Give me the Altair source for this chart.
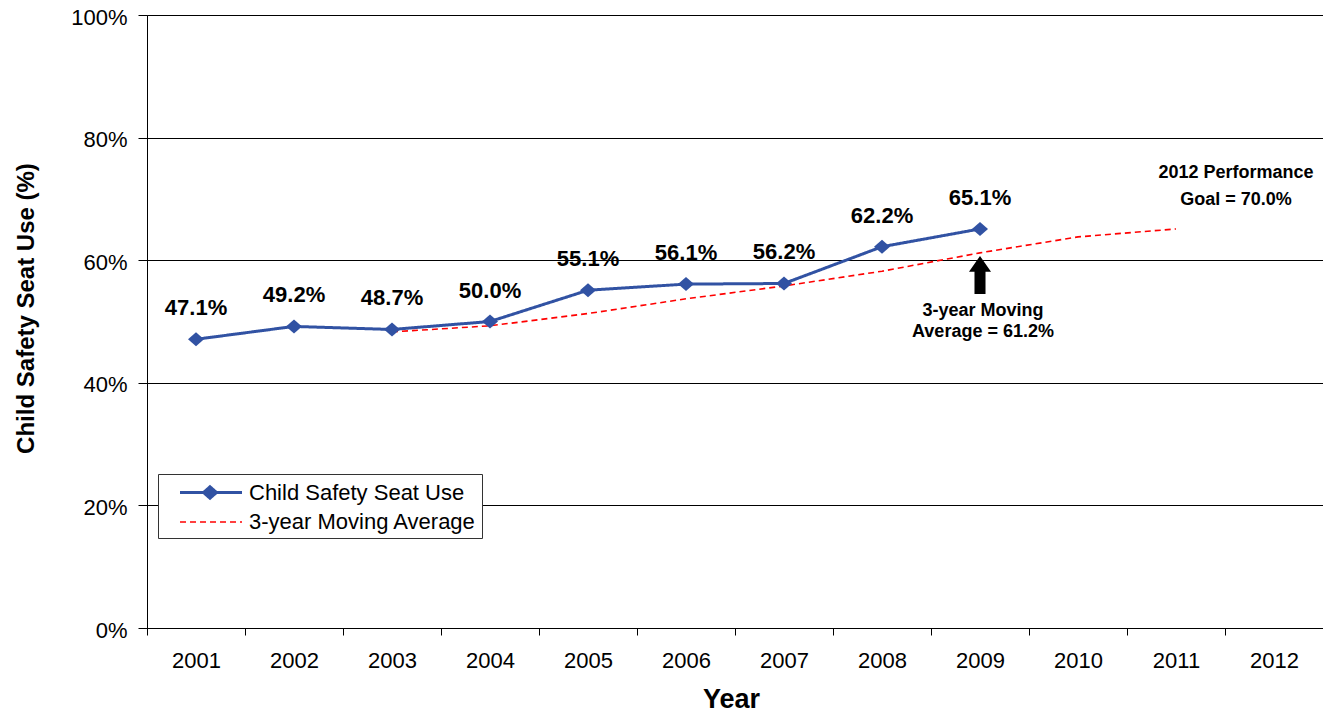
import altair as alt
import pandas as pd

# ---------------- data ----------------
years = [str(y) for y in range(2001, 2013)]
use_years = years[:9]
use_values = [47.1, 49.2, 48.7, 50.0, 55.1, 56.1, 56.2, 62.2, 65.1]
ma_years = years[2:11]
ma_values = [48.3, 49.3, 51.3, 53.7, 55.8, 58.2, 61.2, 63.8, 65.1]
series_names = ["Child Safety Seat Use", "3-year Moving Average"]

ma_note_year = ["2009"]
ma_note_value = [50.9]
ma_note_text = ["3-year Moving\nAverage = 61.2%"]
arrow_value = [57.6]
goal_note_year = ["2012"]
goal_note_value = [73.4]
goal_note_text = ["2012 Performance\nGoal = 70.0%"]

BLUE = "#3152A3"
RED = "#FF0000"
FONT = "Liberation Sans"

use_df = pd.DataFrame({
    "year": use_years,
    "value": [v / 100 for v in use_values],
    "series": series_names[0],
    "label": [f"{v:.1f}%" for v in use_values],
})
ma_df = pd.DataFrame({
    "year": ma_years,
    "value": [v / 100 for v in ma_values],
    "series": series_names[1],
})
lines_df = pd.concat([use_df[["year", "value", "series"]], ma_df], ignore_index=True)
ma_note_df = pd.DataFrame({"year": ma_note_year, "value": [v / 100 for v in ma_note_value], "text": ma_note_text})
arrow_df = pd.DataFrame({"year": ma_note_year, "value": [v / 100 for v in arrow_value]})
goal_df = pd.DataFrame({"year": goal_note_year, "value": [v / 100 for v in goal_note_value], "text": goal_note_text})

# ---------------- encodings ----------------
x_scale = alt.Scale(type="band", domain=years, paddingInner=0, paddingOuter=0)
x_axis = alt.Axis(
    title="Year", tickBand="extent", tickSize=7, labelPadding=15, labelAngle=0,
    labelFontSize=22, labelFont=FONT, labelColor="black",
    titleFontSize=27, titleFont=FONT, titleFontWeight="bold", titleColor="black",
    titleY=58, titleX=584, grid=False, domainColor="black", tickColor="black",
)
y_axis = alt.Axis(
    title="Child Safety Seat Use (%)", format=".0%", values=[0, 0.2, 0.4, 0.6, 0.8, 1.0],
    tickSize=9, labelPadding=11, labelOffset=2, labelFontSize=22, labelFont=FONT, labelColor="black",
    titleFontSize=24, titleFont=FONT, titleFontWeight="bold", titleColor="black",
    titleX=-109, titleY=293, grid=True, gridColor="black", gridOpacity=1, gridWidth=1,
    domainColor="black", tickColor="black",
)
y_scale = alt.Scale(domain=[0, 1], nice=False, zero=True)


def X():
    return alt.X("year:N", scale=x_scale, axis=x_axis, bandPosition=0.5)


def Y():
    return alt.Y("value:Q", scale=y_scale, axis=y_axis)


# legend symbol paths (units of 12 px around the symbol centre)
u = 12.0
c = (210 - 176.5) / u
line_part = f"M{(180 - 176.5) / u:.3f},0H{(242 - 176.5) / u:.3f}"
diamonds = ""
for a in [0.54, 0.42, 0.3, 0.18, 0.06]:
    b = a * 0.875
    diamonds += f"M{c - a:.3f},0L{c:.3f},{-b:.3f}L{c + a:.3f},0L{c:.3f},{b:.3f}Z"
legend_paths = [line_part + diamonds, line_part]

LEG = alt.Legend(
    title=None, orient="none", legendX=11, legendY=459, fillColor="white",
    strokeColor="#333333", padding=5, rowPadding=4, symbolSize=(2 * u) ** 2,
    symbolOpacity=1, labelFontSize=22, labelFont=FONT, labelColor="black",
    labelOffset=59, labelLimit=400,
)

color_scale = alt.Scale(domain=series_names, range=[BLUE, RED])
dash_scale = alt.Scale(domain=series_names, range=[[1, 0], [6, 4]])
width_scale = alt.Scale(domain=series_names, range=[3, 1.6])

legend_layer = alt.Chart(lines_df).mark_point(filled=False, opacity=0).encode(
    x=X(), y=Y(),
    color=alt.Color("series:N", scale=color_scale, legend=LEG),
    strokeDash=alt.StrokeDash("series:N", scale=dash_scale, legend=LEG),
    strokeWidth=alt.StrokeWidth("series:N", scale=width_scale, legend=LEG),
    shape=alt.Shape("series:N", scale=alt.Scale(domain=series_names, range=legend_paths), legend=LEG),
)

lines = alt.Chart(lines_df).mark_line().encode(
    x=X(), y=Y(),
    color=alt.Color("series:N", scale=color_scale, legend=LEG),
    strokeDash=alt.StrokeDash("series:N", scale=dash_scale, legend=LEG),
    strokeWidth=alt.StrokeWidth("series:N", scale=width_scale, legend=LEG),
)

markers = alt.Chart(use_df).mark_point(
    filled=True, opacity=1, size=256, shape="M-1,0L0,-0.875L1,0L0,0.875Z", color=BLUE,
).encode(x=X(), y=Y())

labels = alt.Chart(use_df).mark_text(
    font=FONT, fontSize=22, fontWeight="bold", color="black", dy=-24, baseline="alphabetic", align="center",
).encode(x=X(), y=Y(), text="label:N")

arrow = alt.Chart(arrow_df).mark_point(
    filled=True, opacity=1, size=1444, color="black",
    shape="M0,-1L0.58,-0.16L0.29,-0.16L0.29,1L-0.29,1L-0.29,-0.16L-0.58,-0.16Z",
).encode(x=X(), y=Y())

ma_note = alt.Chart(ma_note_df).mark_text(
    font=FONT, fontSize=18, fontWeight="bold", color="black", lineBreak="\n", lineHeight=21,
    baseline="alphabetic", align="center", dx=3,
).encode(x=X(), y=Y(), text="text:N")

goal_note = alt.Chart(goal_df).mark_text(
    font=FONT, fontSize=18, fontWeight="bold", color="black", lineBreak="\n", lineHeight=27,
    baseline="alphabetic", align="center", dx=-38,
).encode(x=X(), y=Y(), text="text:N")

chart = alt.layer(legend_layer, lines, markers, labels, arrow, ma_note, goal_note).properties(
    width=1176, height=613,
    autosize=alt.AutoSizeParams(type="none"),
    padding={"left": 139, "top": 7, "right": 0, "bottom": 84},
    background="white",
).configure_view(stroke="#808080", strokeWidth=1)

chart.save("out.html", embed_options={"renderer": "svg", "actions": False})
